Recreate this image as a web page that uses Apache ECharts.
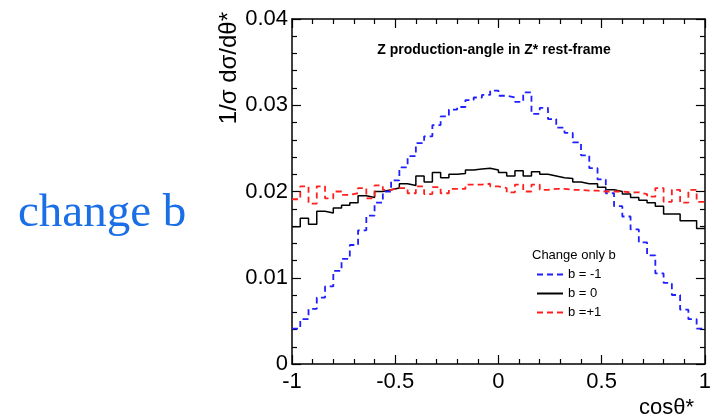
<!DOCTYPE html>
<html>
<head>
<meta charset="utf-8">
<script src="https://cdn.jsdelivr.net/npm/echarts@6/dist/echarts.min.js"></script>
<style>
html,body{margin:0;padding:0;background:#fff;}
#chart{width:714px;height:419px;}
</style>
</head>
<body>
<div id="chart"></div>
<script>
// Histogram binning: 50 bins on cos(theta*) from -1 to 1
const binLow = -1;
const binWidth = 0.04;

// b = -1 (blue dashed)
const bMinus1 = [0.0041,0.0052,0.0064,0.0077,0.0090,0.0108,0.0122,0.0138,0.0155,0.0172,
  0.0187,0.0200,0.0213,0.0228,0.0241,0.0256,0.0264,0.0277,0.0287,0.0295,
  0.0298,0.0306,0.0309,0.0312,0.0317,0.0311,0.0309,0.0304,0.0315,0.0290,
  0.0297,0.0284,0.0274,0.0268,0.0257,0.0242,0.0227,0.0214,0.0198,0.0183,
  0.0171,0.0156,0.0141,0.0126,0.0105,0.0094,0.0080,0.0063,0.0052,0.0041];

// b = 0 (black solid)
const bZero = [0.0159,0.0169,0.0162,0.0177,0.0175,0.0181,0.0184,0.0187,0.0195,0.0193,
  0.0200,0.0202,0.0204,0.0209,0.0207,0.0218,0.0211,0.0222,0.0216,0.0220,
  0.0221,0.0225,0.0226,0.0227,0.0225,0.0222,0.0218,0.0224,0.0218,0.0223,
  0.0220,0.0218,0.0216,0.0215,0.0211,0.0209,0.0209,0.0205,0.0202,0.0200,
  0.0197,0.0193,0.0190,0.0187,0.0183,0.0174,0.0174,0.0166,0.0166,0.0157];

// b = +1 (red dashed)
const bPlus1 = [0.0191,0.0206,0.0186,0.0206,0.0192,0.0200,0.0196,0.0198,0.0204,0.0192,
  0.0207,0.0202,0.0204,0.0204,0.0198,0.0206,0.0197,0.0205,0.0198,0.0203,
  0.0203,0.0208,0.0208,0.0209,0.0206,0.0204,0.0199,0.0208,0.0200,0.0208,
  0.0202,0.0203,0.0203,0.0202,0.0202,0.0201,0.0201,0.0200,0.0200,0.0200,
  0.0199,0.0199,0.0197,0.0194,0.0204,0.0188,0.0202,0.0187,0.0202,0.0188];

const seriesNames = ['b = -1', 'b = 0', 'b =+1'];
const yTicks = [0, 0.01, 0.02, 0.03, 0.04];
const xTicks = [-1, -0.5, 0, 0.5, 1];

function histPoints(vals) {
  const pts = vals.map((v, i) => [binLow + i * binWidth, v]);
  pts.push([binLow + vals.length * binWidth, vals[vals.length - 1]]);
  return pts;
}

const FONT = '"Liberation Sans", Arial, Helvetica, sans-serif';
const chart = echarts.init(document.getElementById('chart'), null, {renderer: 'canvas'});

const axisCommon = {
  axisLine: {show: true, onZero: false, lineStyle: {color: '#000', width: 1.5}},
  axisTick: {show: true, inside: true, length: 9, lineStyle: {color: '#000', width: 1.2}},
  minorTick: {show: true, splitNumber: 5, length: 5, lineStyle: {color: '#000', width: 1.2}},
  splitLine: {show: false},
  minorSplitLine: {show: false}
};

chart.setOption({
  animation: false,
  backgroundColor: '#fff',
  grid: {left: 292, right: 1, top: 19, bottom: 55, containLabel: false},
  xAxis: [
    Object.assign({
      type: 'value', min: xTicks[0], max: xTicks[xTicks.length - 1], interval: 0.5, position: 'bottom',
      axisLabel: {show: true, color: '#000', fontSize: 22, fontFamily: FONT, margin: 7,
        formatter: v => String(v)}
    }, axisCommon),
    Object.assign({
      type: 'value', min: xTicks[0], max: xTicks[xTicks.length - 1], interval: 0.5, position: 'top',
      axisLabel: {show: false}
    }, axisCommon)
  ],
  yAxis: [
    Object.assign({
      type: 'value', min: yTicks[0], max: yTicks[yTicks.length - 1], interval: 0.01, position: 'left',
      axisLabel: {show: true, color: '#000', fontSize: 22, fontFamily: FONT, margin: 4,
        formatter: v => String(v)}
    }, axisCommon),
    Object.assign({
      type: 'value', min: yTicks[0], max: yTicks[yTicks.length - 1], interval: 0.01, position: 'right',
      axisLabel: {show: false}
    }, axisCommon)
  ],
  legend: {
    orient: 'vertical',
    left: 531,
    top: 263,
    itemWidth: 26,
    itemHeight: 12,
    itemGap: 6,
    data: seriesNames,
    itemStyle: {opacity: 0},
    textStyle: {color: '#000', fontSize: 13, fontFamily: FONT, padding: [0, 0, 0, 0]}
  },
  series: [
    {name: seriesNames[0], type: 'line', step: 'end', symbol: 'none', data: histPoints(bMinus1),
      color: '#1f1fff', lineStyle: {color: '#1f1fff', width: 1.8, type: [6, 4]}, z: 3},
    {name: seriesNames[1], type: 'line', step: 'end', symbol: 'none', data: histPoints(bZero),
      color: '#000', lineStyle: {color: '#000', width: 1.5, type: 'solid'}, z: 2},
    {name: seriesNames[2], type: 'line', step: 'end', symbol: 'none', data: histPoints(bPlus1),
      color: '#ff1f1f', lineStyle: {color: '#ff1f1f', width: 1.8, type: [6, 4]}, z: 4}
  ],
  graphic: [
    {type: 'text', left: 18, top: 190, style: {text: 'change b', fill: '#1a6ee6', fontSize: 47,
      fontFamily: '"Liberation Serif", "Times New Roman", serif'}},
    {type: 'text', x: 494, y: 50, style: {text: 'Z production-angle in Z* rest-frame', fill: '#000',
      fontSize: 14, fontWeight: 'bold', fontFamily: FONT, align: 'center', verticalAlign: 'middle'}},
    {type: 'text', x: 532, y: 255, style: {text: 'Change only b', fill: '#000', fontSize: 13,
      fontFamily: FONT, align: 'left', verticalAlign: 'middle'}},
    {type: 'text', x: 694, y: 408, style: {text: 'cosθ*', fill: '#000', fontSize: 22,
      fontFamily: FONT, align: 'right', verticalAlign: 'middle'}},
    {type: 'text', x: 229, y: 12, rotation: Math.PI / 2, style: {text: '1/σ dσ/dθ*', fill: '#000',
      fontSize: 24, fontFamily: FONT, align: 'right', verticalAlign: 'middle'}}
  ]
});
</script>
</body>
</html>
